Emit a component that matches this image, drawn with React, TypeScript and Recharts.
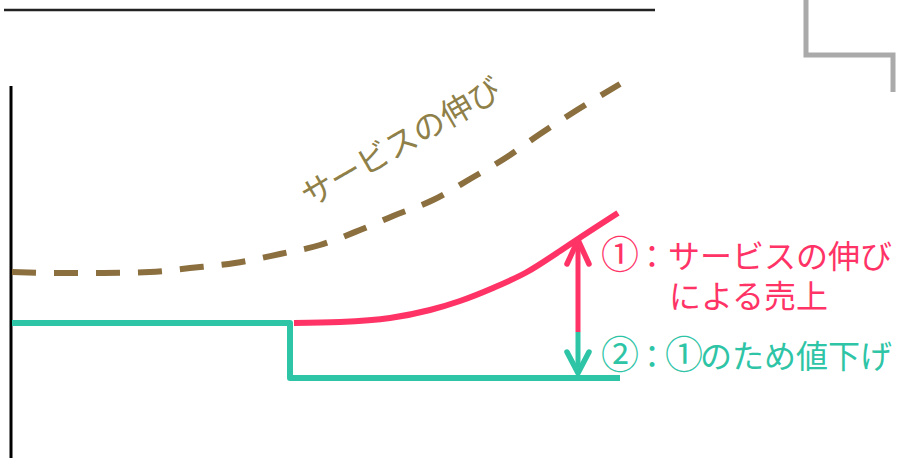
// App.tsx – 値下げとサービスの伸びの概念図

import React from 'react';
import { LineChart, Line, XAxis, YAxis, ReferenceDot } from 'recharts';

// 座標は「横 = 時間」「縦 = 売上の水準」（任意単位）
const serviceGrowth = [
  { x: 12, y: 186 },
  { x: 60, y: 185 },
  { x: 100, y: 185 },
  { x: 150, y: 186 },
  { x: 190, y: 190 },
  { x: 235, y: 195 },
  { x: 280, y: 204 },
  { x: 320, y: 213 },
  { x: 360, y: 228 },
  { x: 393, y: 242 },
  { x: 433, y: 258 },
  { x: 470, y: 279 },
  { x: 507, y: 301 },
  { x: 540, y: 324 },
  { x: 577, y: 348 },
  { x: 620, y: 374 },
];

const salesAfter = [
  { x: 294, y: 135 },
  { x: 340, y: 136 },
  { x: 390, y: 140 },
  { x: 430, y: 148 },
  { x: 460, y: 157 },
  { x: 493, y: 170 },
  { x: 527, y: 186 },
  { x: 560, y: 207 },
  { x: 578, y: 219 },
  { x: 618, y: 245 },
];

const priceLevel = [
  { x: 12, y: 135 },
  { x: 290, y: 135 },
  { x: 290, y: 80 },
  { x: 620, y: 80 },
];

// 矢印（①の幅・②の幅）
const arrowUp = [
  { x: 578, y: 126 },
  { x: 578, y: 218 },
];
const arrowUpHead = [
  { x: 567, y: 194 },
  { x: 578, y: 218 },
  { x: 589, y: 194 },
];
const arrowDown = [
  { x: 578, y: 126 },
  { x: 578, y: 86 },
];
const arrowDownHead = [
  { x: 567, y: 106 },
  { x: 578, y: 85 },
  { x: 589, y: 106 },
];

// 枠線
const topRule = [
  { x: 4, y: 448 },
  { x: 655, y: 448 },
];
const leftAxis = [
  { x: 11, y: 372 },
  { x: 11, y: 0 },
];
const cornerFrame = [
  { x: 806, y: 460 },
  { x: 806, y: 403 },
  { x: 893, y: 403 },
  { x: 893, y: 366 },
];

// ラベル文字列（2行目は字下げ量つき）
const growthLabel = [{ text: 'サービスの伸び', indent: 0 }];
const note1Label = [
  { text: '①：サービスの伸び', indent: 0 },
  { text: 'による売上', indent: 65 },
];
const note2Label = [{ text: '②：①のため値下げ', indent: 0 }];

const PINK = '#FF3366';
const TEAL = '#2EC4A6';
const BROWN = '#8B6F3E';
const OLIVE = '#8E8048';
const FONT = '"Noto Sans CJK JP", "Noto Sans", sans-serif';
const CIRCLED = '①②③';

// 丸数字だけ少し大きく（送り幅は letterSpacing で元の1文字分に戻す）
const renderRuns = (text: string, size: number, first: React.SVGProps<SVGTSpanElement>, keyBase: string) => {
  const big = Math.round(size * 1.2);
  const extra = big - size;
  const shift = Math.round(extra / 2);
  const out: React.ReactNode[] = [];
  let buf = '';
  let pendingDx = 0;
  let head: any = first;
  const flush = () => {
    if (buf) {
      out.push(
        <tspan key={keyBase + out.length} {...head} fontSize={size} dx={pendingDx || undefined}>
          {buf}
        </tspan>
      );
      head = {};
      buf = '';
      pendingDx = 0;
    }
  };
  for (const ch of text) {
    if (CIRCLED.includes(ch)) {
      flush();
      out.push(
        <tspan key={keyBase + out.length} {...head} fontSize={big} dx={pendingDx - shift} letterSpacing={-extra}>
          {ch}
        </tspan>
      );
      head = {};
      pendingDx = shift;
    } else {
      buf += ch;
    }
  }
  flush();
  return out;
};

// ラベル描画（ReferenceDot の位置を1行目の基準に）
const makeLabel =
  (
    lines: { text: string; indent: number }[],
    color: string,
    size: number,
    anchor: 'start' | 'middle',
    angle = 0,
    lineGap = 39.5
  ) =>
  (props: any) => {
    const vb = props.viewBox || {};
    const cx = (vb.x ?? 0) + (vb.width ?? 0) / 2;
    const cy = (vb.y ?? 0) + (vb.height ?? 0) / 2;
    const baseY = cy + size * 0.37;
    return (
      <text
        x={cx}
        y={baseY}
        fill={color}
        fontSize={size}
        fontFamily={FONT}
        textAnchor={anchor}
        transform={angle ? `rotate(${angle} ${cx} ${cy})` : undefined}
      >
        {lines.flatMap((ln, i) =>
          renderRuns(ln.text, size, { x: cx + ln.indent, y: baseY + i * lineGap }, `l${i}-`)
        )}
      </text>
    );
  };

export default function App() {
  return (
    <div style={{ position: 'absolute', left: 0, top: 0, background: '#fff' }}>
      <LineChart width={897} height={458} margin={{ top: 0, right: 0, left: 0, bottom: 0 }}>
        <XAxis type="number" dataKey="x" domain={[0, 897]} hide allowDataOverflow />
        <YAxis type="number" dataKey="y" domain={[0, 458]} hide allowDataOverflow />

        {/* 枠 */}
        <Line data={topRule} dataKey="y" stroke="#222" strokeWidth={2.5} dot={false} activeDot={false} isAnimationActive={false} />
        <Line data={leftAxis} dataKey="y" stroke="#000" strokeWidth={3} dot={false} activeDot={false} isAnimationActive={false} />
        <Line data={cornerFrame} dataKey="y" stroke="#AAAAAA" strokeWidth={5} dot={false} activeDot={false} isAnimationActive={false} />

        {/* サービスの伸び（破線） */}
        <Line
          data={serviceGrowth}
          dataKey="y"
          type="monotone"
          stroke={BROWN}
          strokeWidth={6}
          strokeDasharray="24 18"
          dot={false}
          activeDot={false}
          isAnimationActive={false}
        />

        {/* 値下げ後の価格 */}
        <Line
          data={priceLevel}
          dataKey="y"
          stroke={TEAL}
          strokeWidth={6}
          strokeLinejoin="round"
          dot={false}
          activeDot={false}
          isAnimationActive={false}
        />

        {/* サービスの伸びによる売上 */}
        <Line
          data={salesAfter}
          dataKey="y"
          type="monotone"
          stroke={PINK}
          strokeWidth={6}
          dot={false}
          activeDot={false}
          isAnimationActive={false}
        />

        {/* 矢印 */}
        <Line data={arrowUp} dataKey="y" stroke={PINK} strokeWidth={5} dot={false} activeDot={false} isAnimationActive={false} />
        <Line data={arrowUpHead} dataKey="y" stroke={PINK} strokeWidth={5.5} strokeLinecap="round" strokeLinejoin="round" dot={false} activeDot={false} isAnimationActive={false} />
        <Line data={arrowDown} dataKey="y" stroke={TEAL} strokeWidth={5} dot={false} activeDot={false} isAnimationActive={false} />
        <Line data={arrowDownHead} dataKey="y" stroke={TEAL} strokeWidth={5.5} strokeLinecap="round" strokeLinejoin="round" dot={false} activeDot={false} isAnimationActive={false} />

        {/* ラベル */}
        <ReferenceDot x={401} y={316} r={1} fill="none" stroke="none" label={makeLabel(growthLabel, OLIVE, 32, 'middle', -30)} />
        <ReferenceDot x={604} y={201.5} r={1} fill="none" stroke="none" label={makeLabel(note1Label, PINK, 32, 'start')} />
        <ReferenceDot x={604} y={102} r={1} fill="none" stroke="none" label={makeLabel(note2Label, TEAL, 32, 'start')} />
      </LineChart>
    </div>
  );
}
